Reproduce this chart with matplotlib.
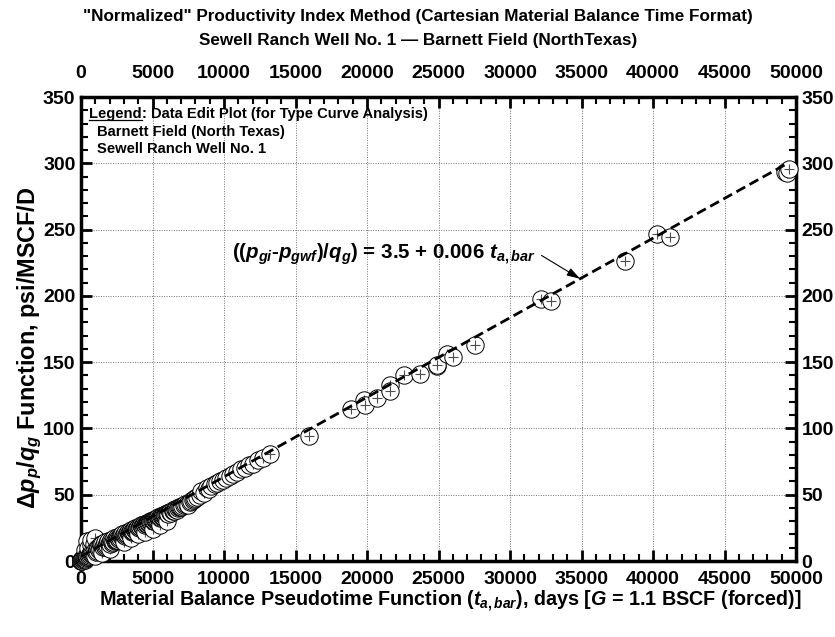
import matplotlib
matplotlib.use("Agg")
import matplotlib.pyplot as plt
from matplotlib.ticker import MultipleLocator
from matplotlib.lines import Line2D
from matplotlib.transforms import IdentityTransform

plt.rcParams['font.family'] = ['Liberation Sans', 'DejaVu Sans']
plt.rcParams['font.weight'] = 'bold'
plt.rcParams['mathtext.fontset'] = 'custom'
plt.rcParams['mathtext.rm'] = 'Liberation Sans:bold'
plt.rcParams['mathtext.bf'] = 'Liberation Sans:bold'
plt.rcParams['mathtext.it'] = 'Liberation Sans:italic:bold'

# ---- data: material balance pseudotime (days) and normalized PI function (psi/MSCF/D)
t_abar = [0, 50, 100, 150, 200, 250, 300, 350, 400, 450, 500, 600, 700, 800,
          300, 500, 700, 900, 400, 700, 1000, 1000, 1500, 2000,
          1000, 1100, 1200, 1300, 1400, 1500, 1600, 1700, 1800, 1900, 2000,
          2100, 2200, 2300, 2400, 2500, 2600, 2700, 2800, 2900, 3000,
          3000, 3500, 4000, 4500, 5000, 5500, 6000,
          3100, 3200, 3300, 3400, 3500, 3600, 3700, 3800, 3900, 4000,
          4100, 4200, 4300, 4400, 4500, 4600, 4700, 4800, 4900, 5000,
          5100, 5200, 5300, 5400, 5500, 5600, 5700, 5800, 5900, 6000,
          6100, 6200, 6300, 6400, 6500, 6600, 6700, 6800, 6900, 7000,
          7200, 7400, 7500, 7716, 7900, 8100, 8300, 8415, 8600, 8800,
          8950, 9100, 9347, 9500, 9697, 9900, 10163, 10400, 10629, 10900,
          11212, 11500, 11725, 12000, 12378, 12700, 13193,
          15930, 18916, 19800, 19880, 20674, 21590, 21638, 22553, 23685,
          24890, 24890, 25612, 26022, 27587, 32187, 32886, 38016, 40256,
          41195, 49220, 49350, 49508]
dp_qg = [0.5, 1.0, 1.5, 2.0, 2.5, 1.8, 3.0, 3.5, 2.8, 4.0, 4.5, 5.0, 5.5, 6.5,
         8.0, 10.0, 12.0, 13.0, 15.0, 16.0, 17.0, 4.0, 6.0, 9.0,
         8.0, 9.5, 10.0, 11.0, 12.5, 13.0, 12.0, 14.0, 13.5, 15.0, 14.0,
         16.0, 15.0, 17.0, 16.0, 18.0, 17.5, 19.0, 18.5, 20.0, 19.5,
         14.0, 17.0, 20.0, 22.0, 24.0, 27.0, 30.0,
         21.0, 20.5, 22.0, 21.5, 23.5, 22.5, 24.0, 25.0, 24.5, 26.0,
         25.5, 27.0, 26.5, 28.0, 27.5, 29.0, 28.5, 30.0, 29.5, 31.0,
         30.0, 32.0, 31.5, 33.0, 32.5, 34.0, 33.5, 35.0, 34.5, 36.0,
         35.5, 37.0, 36.5, 38.0, 37.5, 39.0, 38.5, 40.0, 41.0, 40.5,
         42.0, 43.0, 42.4, 45.6, 46.5, 48.0, 49.5, 53.0, 51.5, 55.0,
         54.0, 56.5, 57.8, 58.5, 60.3, 61.0, 62.7, 64.0, 65.9, 67.5,
         69.6, 70.5, 72.1, 73.0, 76.2, 78.0, 80.6,
         94.2, 114.3, 121.5, 117.3, 122.6, 133.0, 128.1, 140.0, 140.7,
         148.0, 146.9, 156.0, 153.7, 163.2, 197.8, 195.9, 226.0, 246.6,
         244.3, 293.5, 292.5, 295.7]
# additional early-time points in the dense band
t_abar_early = [0, 20, 60, 120, 100, 200, 250, 350, 450, 550, 650, 750, 850, 950, 1050,
                1150, 1250, 1350,
                1450, 1550, 1650, 1750, 1850, 1950, 2050, 2150, 2250, 2350, 2450, 2550,
                2650, 2750, 2850, 2950, 3050, 3150, 3250, 3350, 3450, 3550, 3650, 3750,
                3850, 3950, 4050, 4150, 4250, 4350, 4450, 4550, 4650, 4750, 4850, 4950,
                5050, 5150, 5250, 5350, 5450, 5550, 5650, 5750, 5850, 5950, 6050, 6250,
                6450, 6650, 6850, 7050, 7300, 7600, 7800, 8000]
dp_qg_early = [0.0, 0.3, 0.6, 1.0, 0.2, 1.2, 0.8, 2.2, 3.2, 3.8, 4.2, 5.2, 5.8, 6.2, 6.8,
               7.5, 8.2, 9.0,
               9.2, 10.5, 10.8, 11.5, 12.2, 12.8, 13.2, 13.8, 14.5, 15.2, 15.8, 16.2,
               16.8, 17.5, 18.2, 18.8, 19.0, 19.8, 20.2, 20.8, 21.2, 22.0, 22.8, 23.2,
               23.8, 24.2, 24.8, 25.5, 26.0, 26.8, 27.2, 27.8, 28.2, 28.8, 29.2, 30.0,
               30.5, 31.0, 31.8, 32.2, 32.8, 33.2, 34.0, 34.5, 35.0, 35.8, 36.2, 37.2,
               38.5, 39.5, 40.5, 41.8, 43.0, 44.8, 46.0, 47.2]

fit_intercept = 3.5
fit_slope = 0.006
fit_x = [0, 49400]

xticks = [0, 5000, 10000, 15000, 20000, 25000, 30000, 35000, 40000, 45000, 50000]
yticks = [0, 50, 100, 150, 200, 250, 300, 350]

fig = plt.figure(figsize=(8.35, 6.37), dpi=100)
ax = fig.add_axes([81/835, 1-561/637, 715/835, 464/637])

ax.set_xlim(0, 50000)
ax.set_ylim(0, 350)
ax.set_xticks(xticks)
ax.set_yticks(yticks)
ax.xaxis.set_minor_locator(MultipleLocator(1000))
ax.yaxis.set_minor_locator(MultipleLocator(10))
ax.tick_params(which='both', direction='in', top=True, right=True,
               labeltop=False, labelright=True, labelsize=14)
ax.tick_params(which='major', length=8, width=2)
ax.tick_params(which='minor', length=5, width=1.5)
ax.tick_params(axis='x', pad=7)
ax.tick_params(axis='y', pad=4)
for s in ax.spines.values():
    s.set_linewidth(2.5)
    s.set_zorder(2.5)
ax.grid(True, which='major', linestyle=(0, (1, 1.5)), color='0.45', linewidth=0.7)
ax.set_axisbelow(True)

sec = ax.secondary_xaxis('top')
sec.set_xticks(xticks)
sec.tick_params(length=0, pad=11, labelsize=14)
sec.spines['top'].set_visible(False)

# data markers: white-filled circles with a crosshair, layered point by point
pts = sorted(zip(t_abar + t_abar_early, dp_qg + dp_qg_early))
for i, (x, y) in enumerate(pts):
    z = 3 + i * 0.002
    ax.plot([x], [y], 'o', ms=12.5, mfc='white', mec='black', mew=0.7, zorder=z,
            clip_on=False)
    ax.plot([x], [y], '+', ms=7.5, color='0.3', mew=0.8, zorder=z + 0.001,
            clip_on=False)

# fitted straight line
fy = [fit_intercept + fit_slope * v for v in fit_x]
ax.plot(fit_x, fy, color='black', lw=2.0, dashes=(3.6, 1.8), zorder=10)

# annotation
ax.text(10560, 231.5, r'(($p_{gi}$-$p_{gwf}$)/$q_g$) = 3.5 + 0.006 $t_{a,bar}$',
        fontsize=14.8, fontweight='bold', va='center', ha='left', zorder=12)
tip_x = 34900
ax.annotate('', xy=(tip_x, fit_intercept + fit_slope * tip_x), xytext=(32200, 230.5),
            arrowprops=dict(arrowstyle='-|>,head_length=0.8,head_width=0.25',
                            color='black', lw=0.8, shrinkA=0, shrinkB=0), zorder=12)

# legend text block
LFS = 10.6
t1 = fig.text(89/835, 1-118/637, 'Legend', fontsize=LFS, fontweight='bold',
              ha='left', va='baseline')
t2 = fig.text(0, 0, ': Data Edit Plot (for Type Curve Analysis)', fontsize=LFS,
              fontweight='bold', ha='left', va='baseline')
fig.text(97/835, 1-136/637, 'Barnett Field (North Texas)', fontsize=LFS,
         fontweight='bold', ha='left', va='baseline')
fig.text(97/835, 1-153/637, 'Sewell Ranch Well No. 1', fontsize=LFS,
         fontweight='bold', ha='left', va='baseline')

# titles / labels
fig.text(0.5006, 1-17/637, '"Normalized" Productivity Index Method (Cartesian Material Balance Time Format)',
         fontsize=12.3, fontweight='bold', ha='center', va='center')
fig.text(0.5006, 1-40/637, 'Sewell Ranch Well No. 1 \u2014 Barnett Field (NorthTexas)',
         fontsize=12.3, fontweight='bold', ha='center', va='center')
fig.text(450/835, 1-601/637,
         r'Material Balance Pseudotime Function ($t_{a,bar}$), days [$G$ = 1.1 BSCF (forced)]',
         fontsize=14.2, fontweight='bold', ha='center', va='center')
fig.text(30/835, 1-348/637, r'$\Delta p_p/q_g$ Function, psi/MSCF/D',
         fontsize=16.8, fontweight='bold', ha='center', va='center', rotation=90)

fig.canvas.draw()
r = fig.canvas.get_renderer()
bb = t1.get_window_extent(r)
x0, ybase = fig.transFigure.transform((89/835, 1-118/637))
t2.set_position(fig.transFigure.inverted().transform((bb.x1, ybase)))
fig.add_artist(Line2D([bb.x0, bb.x1], [ybase - 1.5, ybase - 1.5], transform=IdentityTransform(),
                      color='black', lw=0.9))

fig.savefig('out.png', dpi=100)
